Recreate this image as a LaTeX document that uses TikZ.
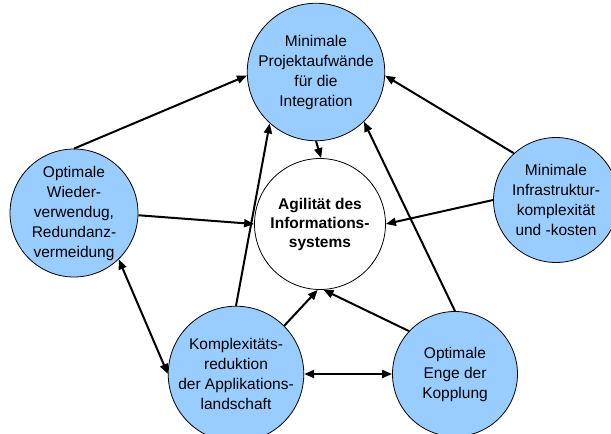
\documentclass[tikz,border=0pt]{standalone}
\usepackage{fontspec}
\setmainfont{Liberation Sans}
\usetikzlibrary{arrows.meta}
\definecolor{circblue}{RGB}{153,204,255}
\begin{document}
\begin{tikzpicture}[x=1pt,y=-1pt,
  goal/.style={circle,draw=black,line width=0.8pt,fill=circblue,inner sep=0pt,
    minimum size=125pt,align=center,font=\fontsize{15.5}{20}\selectfont},
  core/.style={goal,fill=white,minimum size=131pt,font=\fontsize{15.5}{19}\selectfont\bfseries},
  link/.style={line width=2pt,-{Triangle[length=10pt,width=8pt]}},
  both/.style={line width=2pt,{Triangle[length=10pt,width=8pt]}-{Triangle[length=10pt,width=8pt]}}]
\useasboundingbox (0,0) rectangle (611,434);
\clip (0,0) rectangle (611,434);
\node[goal] (T) at (316,72) {Minimale\\Projektaufwände\\für die\\Integration};
\node[core] (C) at (320,224) {Agilität des\\Informations-\\systems};
\node[goal,minimum size=128pt] (L) at (74,213) {Optimale\\Wieder-\\verwendug,\\Redundanz-\\vermeidung};
\node[goal] (R) at (556,200) {Minimale\\Infrastruktur-\\komplexität\\und -kosten};
\node[goal] (BL) at (236,374) {Komplexitäts-\\reduktion\\der Applikations-\\landschaft};
\node[goal] (BR) at (455,374) {Optimale\\Enge der\\Kopplung};
\draw[link] (L.90) -- (T.183);
\draw[link] (L.-2) -- (C.180);
\draw[link] (T.270) -- (C.89);
\draw[link] (R.132) -- (T.-3);
\draw[link] (R.180) -- (C.0);
\draw[both] (L.-46) -- (BL.180);
\draw[link] (BL.90) -- (T.228);
\draw[link] (BL.45) -- (C.268);
\draw[both] (BL.0) -- (BR.180);
\draw[link] (BR.137) -- (C.273);
\draw[link] (BR.90) -- (T.314);
\end{tikzpicture}
\end{document}
